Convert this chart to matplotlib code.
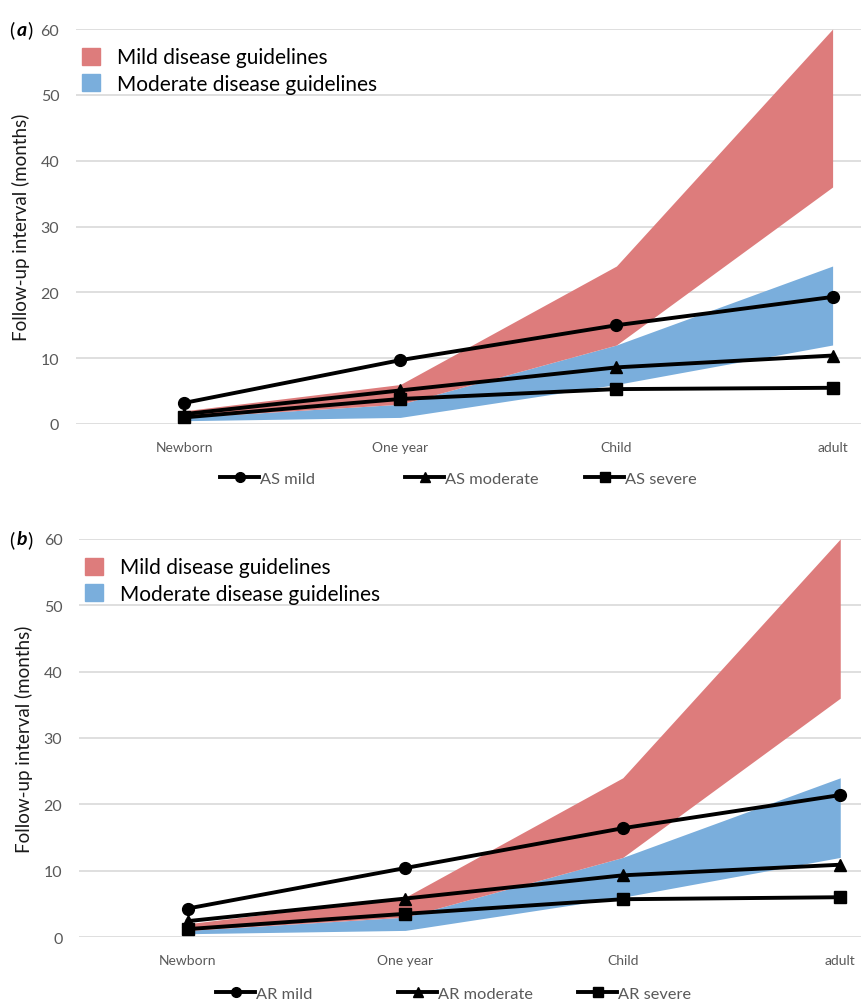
import matplotlib
matplotlib.use('Agg')
import matplotlib.pyplot as plt
from matplotlib.lines import Line2D
from matplotlib.patches import Patch

plt.rcParams['font.family'] = ['Lato', 'DejaVu Sans']

# ── data ──────────────────────────────────────
stages = ['Newborn', 'One year', 'Child', 'adult']

mild_low = [1.0, 3.0, 12.0, 36.0]
mild_high = [2.0, 6.0, 24.0, 60.0]
moderate_low = [0.5, 1.0, 6.0, 12.0]
moderate_high = [1.0, 3.0, 12.0, 24.0]

as_mild = [3.2, 9.7, 15.0, 19.3]
as_moderate = [1.5, 5.1, 8.6, 10.4]
as_severe = [1.0, 3.8, 5.3, 5.5]

ar_mild = [4.3, 10.4, 16.4, 21.4]
ar_moderate = [2.4, 5.8, 9.3, 10.9]
ar_severe = [1.2, 3.5, 5.7, 6.0]

RED = '#DD7C7C'
BLUE = '#7AAEDC'
GRID = '#D9D9D9'
TXT = '#595959'

fig = plt.figure(figsize=(8.62, 10.04), dpi=100)


def draw_panel(rect, xmax, series, names, letter, leg_y, leg_x):
    ax = fig.add_axes(rect)
    x = list(range(len(stages)))
    ax.fill_between(x, moderate_low, moderate_high, color=BLUE, lw=0, zorder=2)
    ax.fill_between(x, mild_low, mild_high, color=RED, lw=0, zorder=2)
    markers = ['o', '^', 's']
    for vals, m, name, lx in zip(series, markers, names, leg_x):
        ax.plot(x, vals, color='black', lw=2.8, marker=m, ms=8.5, zorder=4)
        h = Line2D([], [], color='black', lw=2.8, marker=m, ms=7, label=name)
        # Excel-style legend: each entry sits in an equal-width slot
        fig.legend(handles=[h], loc='center left', bbox_to_anchor=(lx / 862, leg_y),
                   frameon=False, fontsize=11.8, handlelength=2.4,
                   handletextpad=0.05, borderaxespad=0, borderpad=0,
                   labelcolor=TXT)

    ax.set_xlim(-0.5, xmax)
    ax.set_ylim(0, 60)
    ax.set_yticks(range(0, 61, 10))
    ax.set_xticks(x)
    ax.set_xticklabels(stages)
    ax.tick_params(axis='both', length=0, colors=TXT)
    ax.tick_params(axis='y', labelsize=11.5, pad=12)
    ax.tick_params(axis='x', labelsize=10, pad=12)
    ax.grid(axis='y', color=GRID, lw=1.2, zorder=0)
    ax.set_axisbelow(True)
    for s in ax.spines.values():
        s.set_visible(False)
    ax.set_ylabel('Follow-up interval (months)', fontsize=13.5, color='#1a1a1a', labelpad=8)

    patches = [Patch(color=RED, label='Mild disease guidelines'),
               Patch(color=BLUE, label='Moderate disease guidelines')]
    ax.legend(handles=patches, loc='upper left', bbox_to_anchor=(-0.008, 0.985),
              frameon=False, fontsize=15, handlelength=0.85, handleheight=0.85,
              handletextpad=0.8, labelspacing=0.3, borderaxespad=0.2)

    top = rect[1] + rect[3]
    fig.text(0.011, top, '(', fontsize=14, va='center', ha='left')
    fig.text(0.019, top, letter, fontsize=14, va='center', ha='left',
             fontweight='bold', fontstyle='italic')
    fig.text(0.032, top, ')', fontsize=14, va='center', ha='left')
    return ax


draw_panel([0.0882, 0.5767, 0.9118, 0.3934], 3.136,
           [as_mild, as_moderate, as_severe],
           ['AS mild', 'AS moderate', 'AS severe'], 'a', 0.522, [220, 405, 585])
draw_panel([0.0917, 0.0657, 0.9083, 0.3965], 3.10,
           [ar_mild, ar_moderate, ar_severe],
           ['AR mild', 'AR moderate', 'AR severe'], 'b', 0.009, [216, 398, 578])

fig.savefig('out.png', dpi=100)
